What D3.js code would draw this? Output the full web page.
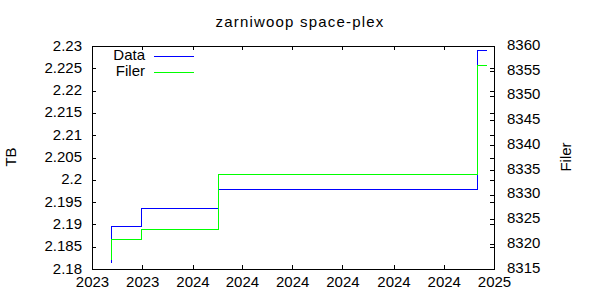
<!DOCTYPE html>
<html>
<head>
<meta charset="utf-8">
<script src="https://cdn.jsdelivr.net/npm/d3@7"></script>
<style>
  body { margin: 0; background: #fff; }
  text { font-family: "Liberation Sans", Arial, sans-serif; font-size: 15px; fill: #000; }
  .tick line, .frame, .step { shape-rendering: crispEdges; }
</style>
</head>
<body>
<div id="chart"></div>
<script>
// readings
const dates = ['2023-09-24', '2023-09-25', '2023-10-31', '2024-02-01', '2024-12-12', '2024-12-24'];
const tbValues = [2.1815, 2.1896, 2.1936, 2.1979, 2.2291, 2.2291];
const filerValues = [8317, 8321, 8323, 8334, 8356, 8356];

const xTickDates = ['2023-09-01', '2023-11-01', '2024-01-01', '2024-03-01', '2024-05-01',
  '2024-07-01', '2024-09-01', '2024-11-01', '2025-01-01'];
const yTicks = [2.18, 2.185, 2.19, 2.195, 2.2, 2.205, 2.21, 2.215, 2.22, 2.225, 2.23];
const y2Ticks = [8315, 8320, 8325, 8330, 8335, 8340, 8345, 8350, 8355, 8360];

const width = 600, height = 300;
const plot = { left: 92, right: 494, top: 46, bottom: 269 };
const parse = d3.timeParse('%Y-%m-%d');
const tickDates = xTickDates.map(parse);

const svg = d3.select('#chart').append('svg')
  .attr('width', width)
  .attr('height', height);

const x = d3.scaleTime()
  .domain([tickDates[0], tickDates[tickDates.length - 1]])
  .range([plot.left, plot.right]);
const y = d3.scaleLinear().domain([2.18, 2.23]).range([plot.bottom, plot.top]);
const y2 = d3.scaleLinear().domain([8315, 8360]).range([plot.bottom, plot.top]);

// axes, ticks pointing inward like gnuplot
svg.append('g')
  .attr('transform', 'translate(0,' + plot.bottom + ')')
  .call(d3.axisBottom(x).tickValues(tickDates).tickFormat(d3.timeFormat('%Y'))
    .tickSizeInner(-4).tickSizeOuter(0).tickPadding(7));
svg.append('g')
  .attr('transform', 'translate(0,' + plot.top + ')')
  .call(d3.axisTop(x).tickValues(tickDates).tickFormat('')
    .tickSizeInner(-4).tickSizeOuter(0));
svg.append('g')
  .attr('class', 'yaxis')
  .attr('transform', 'translate(' + plot.left + ',0)')
  .call(d3.axisLeft(y).tickValues(yTicks).tickFormat(d => String(d))
    .tickSizeInner(-4).tickSizeOuter(0).tickPadding(10));
svg.append('g')
  .attr('transform', 'translate(' + plot.right + ',0)')
  .call(d3.axisRight(y).tickValues(yTicks).tickFormat('')
    .tickSizeInner(-4).tickSizeOuter(0));
svg.append('g')
  .attr('class', 'y2axis')
  .attr('transform', 'translate(' + plot.right + ',0)')
  .call(d3.axisRight(y2).tickValues(y2Ticks).tickFormat(d3.format('d'))
    .tickSizeInner(-4).tickSizeOuter(0).tickPadding(13));

svg.selectAll('.domain').remove();
svg.selectAll('.tick text').style('font-size', '15px').style('font-family', null);
svg.selectAll('.yaxis .tick text').attr('dy', '0.27em');
svg.selectAll('.y2axis .tick text').attr('dy', '0.22em');

svg.append('rect')
  .attr('class', 'frame')
  .attr('x', plot.left)
  .attr('y', plot.top)
  .attr('width', plot.right - plot.left)
  .attr('height', plot.bottom - plot.top)
  .attr('fill', 'none')
  .attr('stroke', '#000');

// step lines
const pts = dates.map(function(d, i) {
  return { date: parse(d), tb: tbValues[i], filer: filerValues[i] };
});

svg.append('path')
  .datum(pts)
  .attr('class', 'step')
  .attr('fill', 'none')
  .attr('stroke', '#0000ff')
  .attr('d', d3.line().curve(d3.curveStepAfter)
    .x(d => x(d.date)).y(d => y(d.tb)));

svg.append('path')
  .datum(pts)
  .attr('class', 'step')
  .attr('fill', 'none')
  .attr('stroke', '#00ff00')
  .attr('d', d3.line().curve(d3.curveStepAfter)
    .x(d => x(d.date)).y(d => y2(d.filer)));

// legend
const legend = [
  { name: 'Data', color: '#0000ff' },
  { name: 'Filer', color: '#00ff00' }
];
const key = svg.append('g').selectAll('g')
  .data(legend)
  .enter()
  .append('g')
    .attr('transform', (d, i) => 'translate(0,' + (56 + i * 16) + ')');
key.append('text')
  .attr('x', 145)
  .attr('dy', '0.27em')
  .attr('text-anchor', 'end')
  .text(d => d.name);
key.append('line')
  .attr('class', 'step')
  .attr('x1', 154)
  .attr('x2', 194)
  .attr('stroke', d => d.color);

// titles
svg.append('text')
  .attr('x', 300)
  .attr('y', 27)
  .attr('text-anchor', 'middle')
  .style('letter-spacing', '1.2px')
  .text('zarniwoop space-plex');

svg.append('text')
  .attr('transform', 'translate(16,157) rotate(-90)')
  .attr('text-anchor', 'middle')
  .text('TB');

svg.append('text')
  .attr('transform', 'translate(571,157) rotate(-90)')
  .attr('text-anchor', 'middle')
  .text('Filer');
</script>
</body>
</html>
